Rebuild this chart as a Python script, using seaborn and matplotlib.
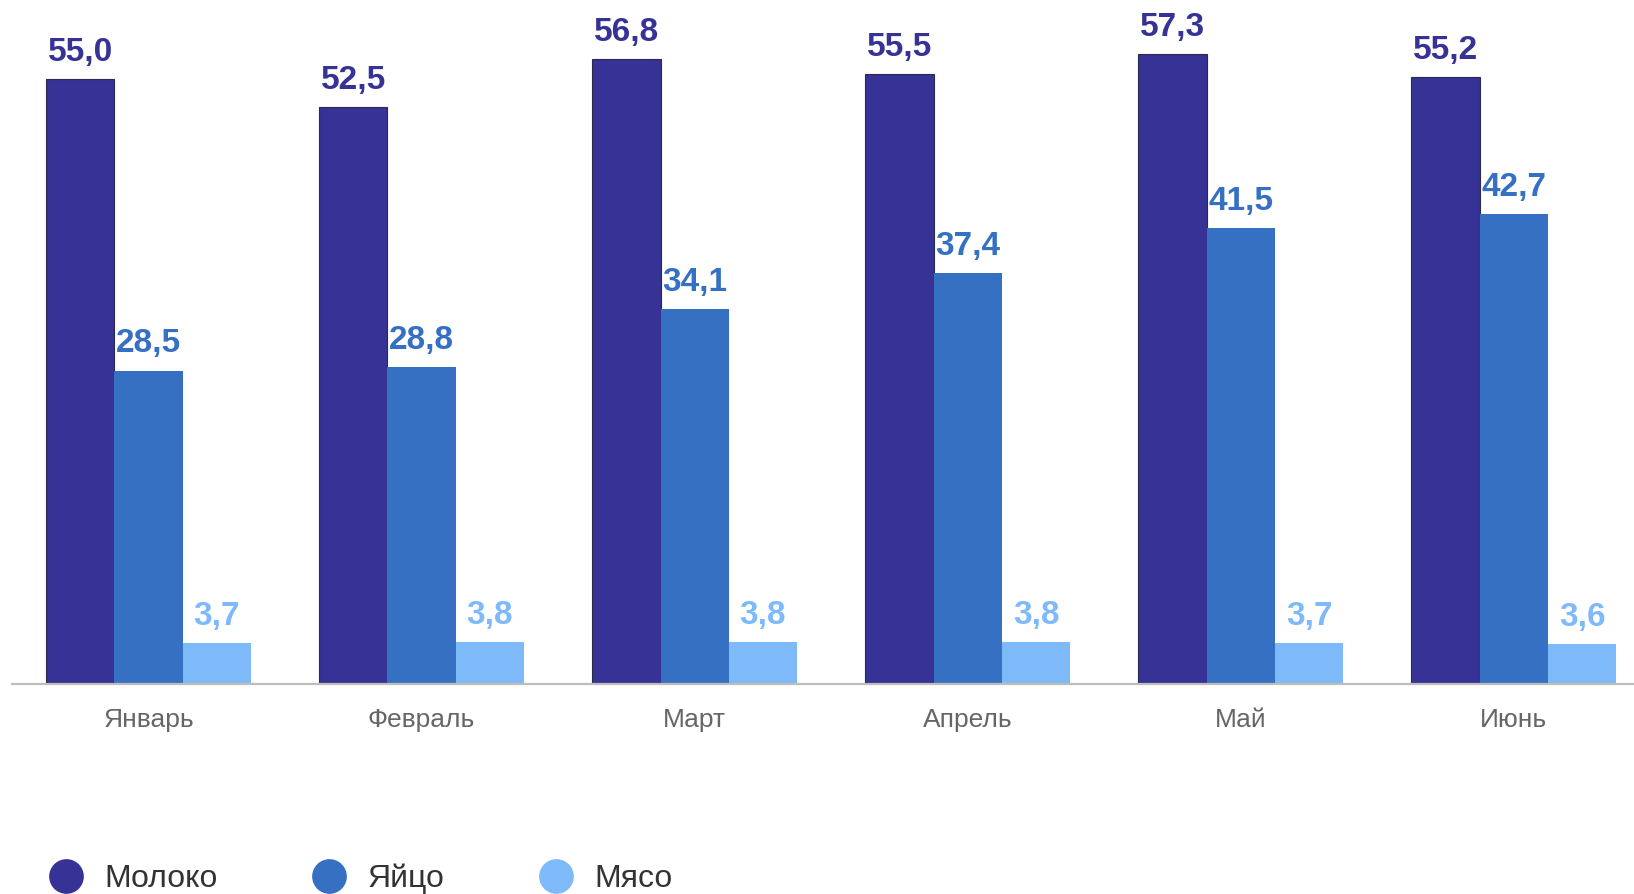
import pandas as pd
import matplotlib
matplotlib.use("Agg")
import matplotlib.pyplot as plt
import seaborn as sns
from matplotlib.lines import Line2D

# ── Data ────────────────────────────────────────────────────────────────
months = ["Январь", "Февраль", "Март", "Апрель", "Май", "Июнь"]
milk = [55.0, 52.5, 56.8, 55.5, 57.3, 55.2]
eggs = [28.5, 28.8, 34.1, 37.4, 41.5, 42.7]
meat = [3.7, 3.8, 3.8, 3.8, 3.7, 3.6]
series_names = ["Молоко", "Яйцо", "Мясо"]
colors = ["#363296", "#3570C3", "#7EBAFA"]

df = pd.DataFrame({"month": months, "Молоко": milk, "Яйцо": eggs, "Мясо": meat})
long_df = df.melt(id_vars="month", var_name="product", value_name="value")

# ── Style ───────────────────────────────────────────────────────────────
sns.set_style("white")
plt.rcParams['font.family'] = ['Liberation Sans', 'DejaVu Sans']

fig = plt.figure(figsize=(16.34, 8.94), dpi=100)
ax = fig.add_axes([12 / 1634, 210 / 894, 1 - 12 / 1634, 684 / 894])

sns.barplot(data=long_df, x="month", y="value", hue="product",
            hue_order=series_names, palette=colors, order=months,
            width=0.75, gap=0, saturation=1, errorbar=None, legend=False, ax=ax)

for cont, col in zip(ax.containers, colors):
    for p in cont:
        if col == colors[0]:
            p.set_edgecolor("#2a2a4a")
            p.set_linewidth(0.8)
        else:
            p.set_linewidth(0)
    ax.bar_label(cont, labels=[f"{b.get_height():.1f}".replace(".", ",") for b in cont],
                 padding=8, color=col, fontsize=24, fontweight="bold")

ax.set_xlim(-0.50, 5.44)
ax.set_ylim(0, 62.2)
ax.set_xlabel("")
ax.set_ylabel("")
ax.set_yticks([])
ax.tick_params(axis="x", length=0, pad=17, labelsize=19, labelcolor="#666666")
for side in ["top", "left", "right"]:
    ax.spines[side].set_visible(False)
ax.spines["bottom"].set_color("#bdbdbd")
ax.spines["bottom"].set_linewidth(1.6)

# ── Legend ──────────────────────────────────────────────────────────────
handles = [Line2D([], [], marker="o", linestyle="", markersize=25,
                  markerfacecolor=c, markeredgewidth=0) for c in colors]
fig.legend(handles, series_names, loc="center left", bbox_to_anchor=(0.011, 0.017),
           ncol=3, frameon=False, fontsize=23, labelcolor="#333333",
           handletextpad=0.6, columnspacing=2.9, handlelength=1.2)

fig.savefig("out.png", dpi=100)
